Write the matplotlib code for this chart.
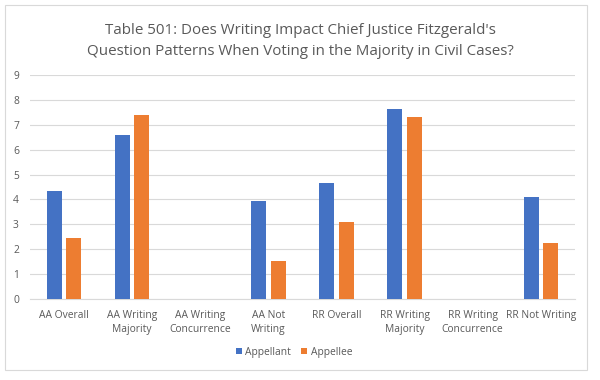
import matplotlib
matplotlib.use("Agg")
import matplotlib.pyplot as plt
import numpy as np
from matplotlib.patches import Rectangle

categories = ["AA Overall", "AA Writing\nMajority", "AA Writing\nConcurrence", "AA Not\nWriting",
              "RR Overall", "RR Writing\nMajority", "RR Writing\nConcurrence", "RR Not Writing"]
appellant = [4.32, 6.6, 0, 3.92, 4.67, 7.64, 0, 4.11]
appellee = [2.45, 7.37, 0, 1.52, 3.1, 7.3, 0, 2.27]
series_names = ["Appellant", "Appellee"]
title = "Table 501: Does Writing Impact Chief Justice Fitzgerald's\nQuestion Patterns When Voting in the Majority in Civil Cases?"

plt.rcParams['font.family'] = ['Open Sans', 'DejaVu Sans']
gray = "#595959"
blue = "#4472C4"
orange = "#ED7D31"

fig = plt.figure(figsize=(6, 3.8), dpi=100)
ax = fig.add_axes([0.05, 0.213, 0.908, 0.59])
fig.patches.append(Rectangle((0.009, 0.026), 0.97, 0.96, transform=fig.transFigure,
                             fill=False, edgecolor="#D9D9D9", linewidth=0.8))

x = np.arange(len(categories))
w = 0.22
ax.bar(x - 0.143, appellant, w, color=blue, label=series_names[0], zorder=3)
ax.bar(x + 0.143, appellee, w, color=orange, label=series_names[1], zorder=3)

ax.set_xlim(-0.5, len(categories) - 0.5)
ax.set_ylim(0, 9)
ax.set_yticks(range(0, 10))
ax.yaxis.grid(True, color="#D9D9D9", linewidth=0.8, zorder=0)
ax.set_axisbelow(True)
for s in ["top", "right", "left"]:
    ax.spines[s].set_visible(False)
ax.spines["bottom"].set_color("#D9D9D9")
ax.tick_params(axis="both", length=0, colors=gray, labelsize=7.4)
ax.tick_params(axis="y", pad=8)
ax.tick_params(axis="x", pad=8)
ax.set_xticks(x)
ax.set_xticklabels(categories, linespacing=1.4)

fig.text(0.5, 0.892, title, ha="center", va="center", fontsize=10.9, color=gray, linespacing=1.5)
fig.legend(loc="center", bbox_to_anchor=(0.49, 0.073), ncol=2, frameon=False, fontsize=7.4,
           labelcolor=gray, handlelength=0.6, handleheight=0.6, handletextpad=0.3, columnspacing=1.0)

fig.savefig("out.png", dpi=100, facecolor="white")
